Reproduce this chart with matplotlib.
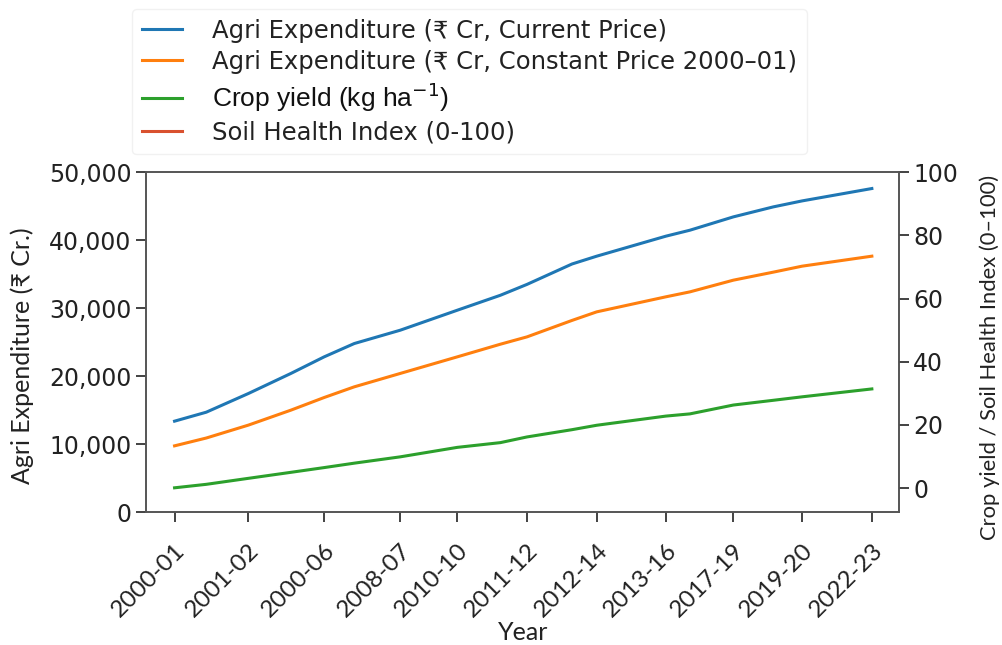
import numpy as np
import matplotlib
matplotlib.use("Agg")
import matplotlib.pyplot as plt

# tick positions (year-like units) and labels
tick_pos = [0, 2.33, 4.72, 7.12, 8.92, 11.12, 13.32, 15.5, 17.63, 19.8, 22]
tick_labels = ["2000-01", "2001-02", "2000-06", "2008-07", "2010-10", "2011-12",
               "2012-14", "2013-16", "2017-19", "2019-20", "2022-23"]

# sample positions of the series
x = [0, 1, 2.33, 3.67, 4.72, 5.67, 7.12, 8.92, 10.28, 11.12, 12.54, 13.32,
     15.5, 16.26, 17.63, 18.89, 19.8, 22]
exp_current = [13380, 14700, 17450, 20400, 22840, 24800, 26760, 29700, 31900,
               33500, 36500, 37650, 40590, 41470, 43430, 44900, 45780, 47600]
exp_constant = [9750, 10900, 12800, 15000, 16860, 18430, 20400, 22840, 24700,
                25780, 28200, 29460, 31670, 32400, 34120, 35300, 36180, 37650]
crop_yield = [0.1, 1.2, 3.1, 5.0, 6.5, 7.9, 9.9, 12.9, 14.4, 16.2, 18.5, 19.9,
              22.8, 23.5, 26.3, 27.8, 28.9, 31.4]
soil_health = [np.nan] * len(x)

HUM = ["Lato", "DejaVu Sans"]
TXT = "#222222"

fig = plt.figure(figsize=(10.03, 6.45), dpi=100)
ax = fig.add_axes([0.1456, 0.206, 0.7505, 0.527])
ax2 = ax.twinx()

l1, = ax.plot(x, exp_current, color="#1f77b4", lw=2.2,
              label="Agri Expenditure (₹ Cr, Current Price)")
l2, = ax.plot(x, exp_constant, color="#ff7f0e", lw=2.2,
              label="Agri Expenditure (₹ Cr, Constant Price 2000–01)")
l3, = ax2.plot(x, crop_yield, color="#2ca02c", lw=2.2,
               label="Crop yield (kg ha$^{-1}$)")
l4, = ax2.plot(x, soil_health, color="#d9512f", lw=2.2,
               label="Soil Health Index (0-100)")

ax.set_ylim(0, 50000)
ax2.set_ylim(-7.6, 100)
ax.set_xlim(-0.9, 22.85)
ax.set_yticks([0, 10000, 20000, 30000, 40000, 50000])
ax.set_yticklabels(["0", "10,000", "20,000", "30,000", "40,000", "50,000"])
ax2.set_yticks([0, 20, 40, 60, 80, 100])
ax.set_xticks(tick_pos)
ax.set_xticklabels(tick_labels, rotation=45, ha="right", va="top",
                   rotation_mode="anchor", family=HUM, fontsize=17.5)

ax.tick_params(axis="y", labelsize=17, length=7, width=1.2, colors=TXT)
ax.tick_params(axis="x", length=7, width=1.2, colors=TXT, pad=13)
ax2.tick_params(axis="y", labelsize=17, length=7, width=1.2, colors=TXT)
for a in (ax, ax2):
    for s in a.spines.values():
        s.set_color("#555555")
        s.set_linewidth(1.2)

ax.set_ylabel("Agri Expenditure (₹ Cr.)", fontsize=18, color=TXT, family=HUM)
ax.yaxis.set_label_coords(22 / 1003, 1 - 356 / 645, transform=fig.transFigure)
ax.yaxis.label.set_va("center")
ax.yaxis.label.set_ha("center")
ax2.set_ylabel("Crop yield / Soil Health Index (0–100)", fontsize=15.8,
               color=TXT, family=HUM)
ax2.yaxis.set_label_coords(990 / 1003, 1 - 357 / 645, transform=fig.transFigure)
ax2.yaxis.label.set_va("center")
ax2.yaxis.label.set_ha("center")
ax.set_xlabel("Year", fontsize=18, color=TXT, family=HUM)
ax.xaxis.set_label_coords(523 / 1003, 1 - 632 / 645, transform=fig.transFigure)
ax.xaxis.label.set_va("center")

leg = fig.legend(handles=[l1, l2, l3, l4], loc="upper left",
                 bbox_to_anchor=(132 / 1003, 1 - 9 / 645), fontsize=17.5,
                 frameon=True, borderaxespad=0, labelspacing=0.28,
                 handlelength=1.65, handletextpad=1.25)
leg.get_frame().set_edgecolor("#eeeeee")
leg.get_frame().set_linewidth(1.0)
for t in leg.get_texts():
    t.set_color(TXT)
leg.get_texts()[2].set_family("Liberation Sans")
leg.get_texts()[2].set_fontsize(19)
leg.get_texts()[2].set_color("#111111")

fig.savefig("out.png", dpi=100)
